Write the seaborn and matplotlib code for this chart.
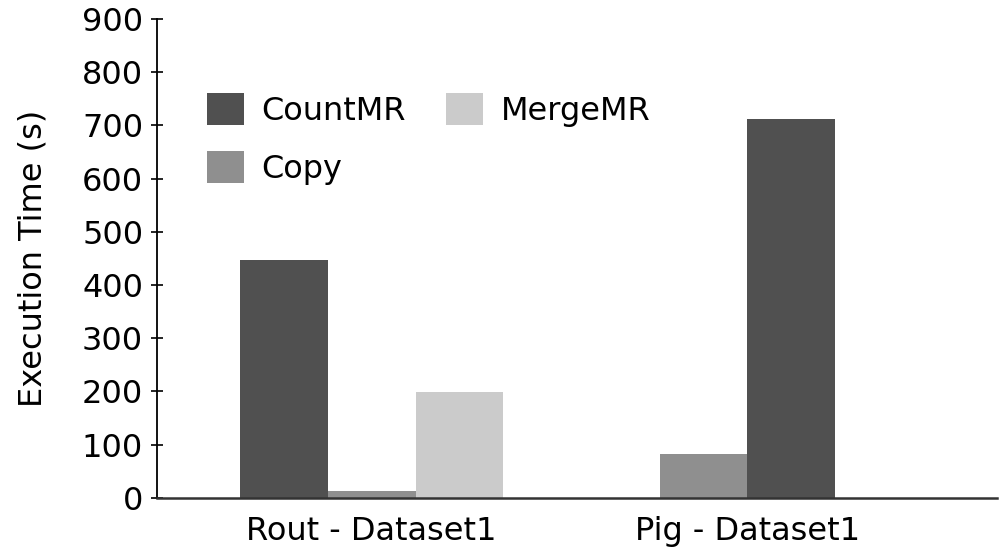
import matplotlib
matplotlib.use("Agg")
import matplotlib.pyplot as plt
from matplotlib.patches import Patch
import pandas as pd
import seaborn as sns

# Workloads on the x axis
groups = ["Rout - Dataset1", "Pig - Dataset1"]

# Per-workload phase breakdown (seconds), in the order the bars are drawn
rout_phases = ["CountMR", "Copy", "MergeMR"]
rout_times = [446, 13, 199]

pig_phases = ["Copy", "CountMR"]
pig_times = [83, 712]

# Legend / colour assignment for each phase
legend_phases = ["CountMR", "Copy", "MergeMR"]
phase_colors = {"CountMR": "#505050", "Copy": "#8f8f8f", "MergeMR": "#cbcbcb"}

yticks = [0, 100, 200, 300, 400, 500, 600, 700, 800, 900]

rout_df = pd.DataFrame({"workload": groups[0], "phase": rout_phases, "time": rout_times})
pig_df = pd.DataFrame({"workload": groups[1], "phase": pig_phases, "time": pig_times})

sns.set_style("ticks")
plt.rcParams["font.family"] = ["DejaVu Sans"]
plt.rcParams["text.color"] = "black"
plt.rcParams["axes.labelcolor"] = "black"
plt.rcParams["xtick.color"] = "black"
plt.rcParams["ytick.color"] = "black"

FS = 23

fig = plt.figure(figsize=(9.99, 5.49), dpi=100)
ax = fig.add_axes([0.1572, 0.0934, 0.8405, 0.8720])

bar_w = 0.7 / 3
sns.barplot(data=rout_df, x="workload", y="time", hue="phase", order=groups,
            hue_order=rout_phases, palette=phase_colors, width=bar_w * len(rout_phases),
            errorbar=None, legend=False, linewidth=0, ax=ax)
sns.barplot(data=pig_df, x="workload", y="time", hue="phase", order=groups,
            hue_order=pig_phases, palette=phase_colors, width=bar_w * len(pig_phases),
            errorbar=None, legend=False, linewidth=0, ax=ax)

ax.set_xlim(-0.572, 1.665)
ax.set_ylim(0, 900)
ax.set_yticks(yticks)
ax.set_xlabel("")
ax.set_ylabel("Execution Time (s)", fontsize=FS, labelpad=24)

ax.tick_params(axis="y", direction="inout", length=8, width=1.2, labelsize=FS, pad=6)
ax.tick_params(axis="x", length=0, labelsize=FS, pad=13)

for side in ("top", "right"):
    ax.spines[side].set_visible(False)
ax.spines["left"].set_linewidth(1.3)
ax.spines["left"].set_color("black")
ax.spines["bottom"].set_linewidth(1.8)
ax.spines["bottom"].set_color("#333333")

handles = [Patch(facecolor=phase_colors[p], edgecolor="none") for p in legend_phases]
ax.legend(handles, legend_phases, loc="upper left", bbox_to_anchor=(0.060, 0.845),
          ncol=2, frameon=False, fontsize=FS, handlelength=1.15, handleheight=1.15,
          handletextpad=0.55, columnspacing=1.25, labelspacing=0.75, borderpad=0,
          borderaxespad=0)

fig.savefig("out.png", dpi=100)
